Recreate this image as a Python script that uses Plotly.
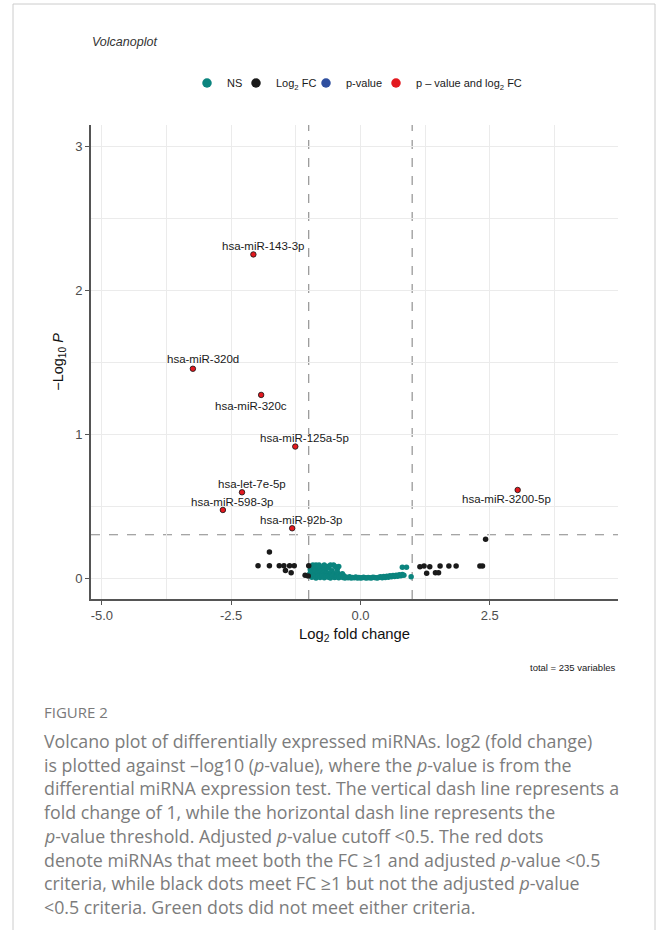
import math
import plotly.graph_objects as go

# ---------------- data ----------------
sig_labels = ["hsa-miR-143-3p", "hsa-miR-320d", "hsa-miR-320c", "hsa-miR-125a-5p",
              "hsa-let-7e-5p", "hsa-miR-598-3p", "hsa-miR-92b-3p", "hsa-miR-3200-5p"]
sig_log2fc = [-2.07, -3.24, -1.92, -1.26, -2.29, -2.66, -1.32, 3.04]
sig_neglogp = [2.25, 1.455, 1.273, 0.914, 0.596, 0.473, 0.346, 0.612]

fc_log2fc = [-1.98, -1.76, -1.76, -1.57, -1.48, -1.45, -1.37, -1.34, -1.28, -1.00, -1.07, -1.01,
             1.15, 1.23, 1.28, 1.34, 1.45, 1.51, 1.54, 1.71, 1.85, 2.31, 2.36, 2.42]
fc_neglogp = [0.086, 0.181, 0.086, 0.086, 0.086, 0.052, 0.086, 0.036, 0.086, 0.086, 0.020, 0.014,
              0.079, 0.083, 0.033, 0.079, 0.037, 0.037, 0.083, 0.083, 0.083, 0.083, 0.083, 0.269]

ns_log2fc = [
    -0.97, -0.95, -0.92, -0.90, -0.88, -0.86, -0.84, -0.82, -0.80, -0.78, -0.75, -0.72, -0.70, -0.67,
    -0.64, -0.61, -0.58, -0.55, -0.52, -0.49, -0.45, -0.42,
    -0.98, -0.96, -0.93, -0.91, -0.89, -0.87, -0.85, -0.83, -0.81, -0.79, -0.77, -0.74, -0.71, -0.68,
    -0.65, -0.62, -0.59, -0.56, -0.53, -0.50, -0.47, -0.44, -0.41, -0.38, -0.35, -0.32,
    -0.94, -0.90, -0.86, -0.82, -0.78, -0.74, -0.70, -0.66, -0.62, -0.58, -0.54, -0.50, -0.46, -0.42,
    -0.38, -0.34, -0.30, -0.27, -0.24, -0.21, -0.18, -0.15, -0.12, -0.09, -0.06, -0.03, 0.00, 0.03,
    0.06, 0.09, 0.12, 0.15, 0.18, 0.21, 0.24, 0.27, 0.30, 0.33, 0.36, 0.39, 0.42, 0.45, 0.48, 0.51,
    0.54, 0.57, 0.60, 0.63, 0.66, 0.69, 0.72, 0.75, 0.78, 0.81, 0.84,
    0.81, 0.89, 0.98]
ns_neglogp = [
    0.06, 0.08, 0.09, 0.05, 0.07, 0.09, 0.06, 0.08, 0.09, 0.07, 0.05, 0.08, 0.09, 0.06,
    0.08, 0.07, 0.09, 0.05, 0.09, 0.08, 0.06, 0.08,
    0.03, 0.045, 0.02, 0.04, 0.03, 0.05, 0.025, 0.04, 0.035, 0.02, 0.045, 0.03, 0.04, 0.025,
    0.035, 0.03, 0.02, 0.04, 0.025, 0.03, 0.02, 0.035, 0.025, 0.02, 0.03, 0.015,
    0.005, 0.01, 0.0, 0.012, 0.004, 0.015, 0.002, 0.01, 0.006, 0.0, 0.012, 0.003, 0.008, 0.001,
    0.01, 0.004, 0.0, 0.006, 0.002, 0.009, 0.0, 0.004, 0.001, 0.007, 0.0, 0.003, 0.0, 0.002,
    0.005, 0.001, 0.0, 0.004, 0.002, 0.0, 0.006, 0.003, 0.001, 0.0, 0.005, 0.008, 0.002, 0.01,
    0.004, 0.012, 0.006, 0.015, 0.008, 0.018, 0.01, 0.02, 0.012, 0.022, 0.015, 0.025, 0.02,
    0.075, 0.075, 0.009]

fc_cutoff = 1.0
p_cutoff = 0.5

x_tick_vals = [-5.0, -2.5, 0.0, 2.5]
x_tick_labels = ["-5.0", "-2.5", "0.0", "2.5"]
x_minor_vals = [-3.75, -1.25, 1.25, 3.75]
y_tick_vals = [0, 1, 2, 3]
y_tick_labels = ["0", "1", "2", "3"]
y_minor_vals = [0.5, 1.5, 2.5]

legend_names = ["NS", "Log<sub>2</sub> FC", "p-value", "p \u2013 value and log<sub>2</sub> FC"]

caption_lines = [
    "Volcano plot of differentially expressed miRNAs. log2 (fold change)",
    "is plotted against \u2013log10 (<i>p</i>-value), where the <i>p</i>-value is from the",
    "differential miRNA expression test. The vertical dash line represents a",
    "fold change of 1, while the horizontal dash line represents the",
    "<i>p</i>-value threshold. Adjusted <i>p</i>-value cutoff &lt;0.5. The red dots",
    "denote miRNAs that meet both the FC \u22651 and adjusted <i>p</i>-value &lt;0.5",
    "criteria, while black dots meet FC \u22651 but not the adjusted <i>p</i>-value",
    "&lt;0.5 criteria. Green dots did not meet either criteria.",
]

# label offsets (pixels) relative to their point: (xshift, yshift)
label_shift = [(10, 8), (10, 10), (-10, -11), (9, 9), (10, 8), (9, 8), (9, 8), (-11, -9)]

# ---------------- styling ----------------
C_NS = "#0b847e"
C_FC = "#1a1a1a"
C_P = "#2f4f9f"
C_BOTH = "#e3191f"
FONT = "Liberation Sans, Arial, sans-serif"
CAP_FONT = "Open Sans, sans-serif"

W, H = 656, 930
ML, MR, MT, MB = 91, 38, 125, 331
PW, PH = W - ML - MR, H - MT - MB


def px(xp):
    return (xp - ML) / PW


def py(yp):
    return (H - MB - yp) / PH


fig = go.Figure()

fig.add_trace(go.Scatter(x=ns_log2fc, y=ns_neglogp, mode="markers",
                         marker=dict(color=C_NS, size=5.5), showlegend=False, hoverinfo="skip"))
fig.add_trace(go.Scatter(x=fc_log2fc, y=fc_neglogp, mode="markers",
                         marker=dict(color=C_FC, size=5.5), showlegend=False, hoverinfo="skip"))
fig.add_trace(go.Scatter(x=sig_log2fc, y=sig_neglogp, mode="markers",
                         marker=dict(color=C_BOTH, size=5.5, line=dict(color="#111", width=0.8)),
                         showlegend=False, hoverinfo="skip"))

# legend entries
leg_colors = [C_NS, C_FC, C_P, C_BOTH]
leg_widths = [4, 25, 25, 110]
for name, col, lw in zip(legend_names, leg_colors, leg_widths):
    fig.add_trace(go.Scatter(x=[None], y=[None], mode="markers", name=name,
                             marker=dict(color=col, size=9.5), legendwidth=lw))

annotations = []
for lab, xv, yv, (dx, dy) in zip(sig_labels, sig_log2fc, sig_neglogp, label_shift):
    annotations.append(dict(x=xv, y=yv, xref="x", yref="y", text=lab, showarrow=False,
                            xshift=dx, yshift=dy, font=dict(family=FONT, size=11.5, color="#1a1a1a")))

annotations.append(dict(x=px(90), y=py(42), xref="paper", yref="paper", text="<i>Volcanoplot</i>",
                        showarrow=False, xanchor="left", yanchor="middle",
                        font=dict(family=FONT, size=12.5, color="#333")))
annotations.append(dict(x=1.0, y=py(667), xref="paper", yref="paper", text="total = 235 variables",
                        showarrow=False, xanchor="right", yanchor="middle",
                        font=dict(family=FONT, size=9.5, color="#1a1a1a")))
annotations.append(dict(x=px(42), y=py(712), xref="paper", yref="paper", text="FIGURE 2",
                        showarrow=False, xanchor="left", yanchor="middle",
                        font=dict(family=CAP_FONT, size=15, color="#7a7a7a")))
cap_y0, cap_dy = 741, 23.7
for i, line in enumerate(caption_lines):
    annotations.append(dict(x=px(42), y=py(cap_y0 + i * cap_dy), xref="paper", yref="paper",
                            text=line, showarrow=False, xanchor="left", yanchor="middle",
                            font=dict(family=CAP_FONT, size=17.8, color="#7c7c7c")))

shapes = [
    dict(type="line", xref="x", yref="paper", x0=-fc_cutoff, x1=-fc_cutoff, y0=0, y1=1,
         line=dict(color="#888", width=1.1, dash="dash"), layer="below"),
    dict(type="line", xref="x", yref="paper", x0=fc_cutoff, x1=fc_cutoff, y0=0, y1=1,
         line=dict(color="#888", width=1.1, dash="dash"), layer="below"),
    dict(type="line", xref="paper", yref="y", x0=0, x1=1, y0=-math.log10(p_cutoff),
         y1=-math.log10(p_cutoff), line=dict(color="#888", width=1.1, dash="dash"), layer="below"),
    dict(type="rect", xref="paper", yref="paper", x0=px(13), x1=px(655), y0=py(960), y1=py(4),
         line=dict(color="#cccccc", width=1), fillcolor="rgba(0,0,0,0)"),
]

axis_common = dict(showgrid=True, gridcolor="#ebebeb", gridwidth=1.3, zeroline=False,
                   showline=True, linecolor="#555", linewidth=1.6, ticks="outside",
                   ticklen=4, tickcolor="#555", tickwidth=1.3,
                   tickfont=dict(family=FONT, size=13, color="#4d4d4d"))

fig.update_layout(
    width=W, height=H, margin=dict(l=ML, r=MR, t=MT, b=MB),
    paper_bgcolor="white", plot_bgcolor="white",
    xaxis=dict(range=[-5.21, 4.98], tickvals=x_tick_vals, ticktext=x_tick_labels,
               minor=dict(tickvals=x_minor_vals, showgrid=True, gridcolor="#ebebeb", gridwidth=1.0, ticks=""),
               title=dict(text="Log<sub>2</sub> fold change", standoff=6,
                          font=dict(family=FONT, size=14.8, color="#111")),
               **axis_common),
    yaxis=dict(range=[-0.146, 3.15], tickvals=y_tick_vals, ticktext=y_tick_labels,
               minor=dict(tickvals=y_minor_vals, showgrid=True, gridcolor="#ebebeb", gridwidth=1.0, ticks=""),
               title=dict(text="\u2212Log<sub>10</sub> <i>P</i>", standoff=8,
                          font=dict(family=FONT, size=14.5, color="#111")),
               **axis_common),
    legend=dict(orientation="h", x=px(187), y=py(83), xanchor="left", yanchor="middle",
                font=dict(family=FONT, size=11, color="#1a1a1a"), bgcolor="rgba(0,0,0,0)",
                itemclick=False),
    annotations=annotations,
    shapes=shapes,
    showlegend=True,
)

fig.write_html("out.html", config={"displayModeBar": False},
               post_script="document.body.style.margin='0px';")
